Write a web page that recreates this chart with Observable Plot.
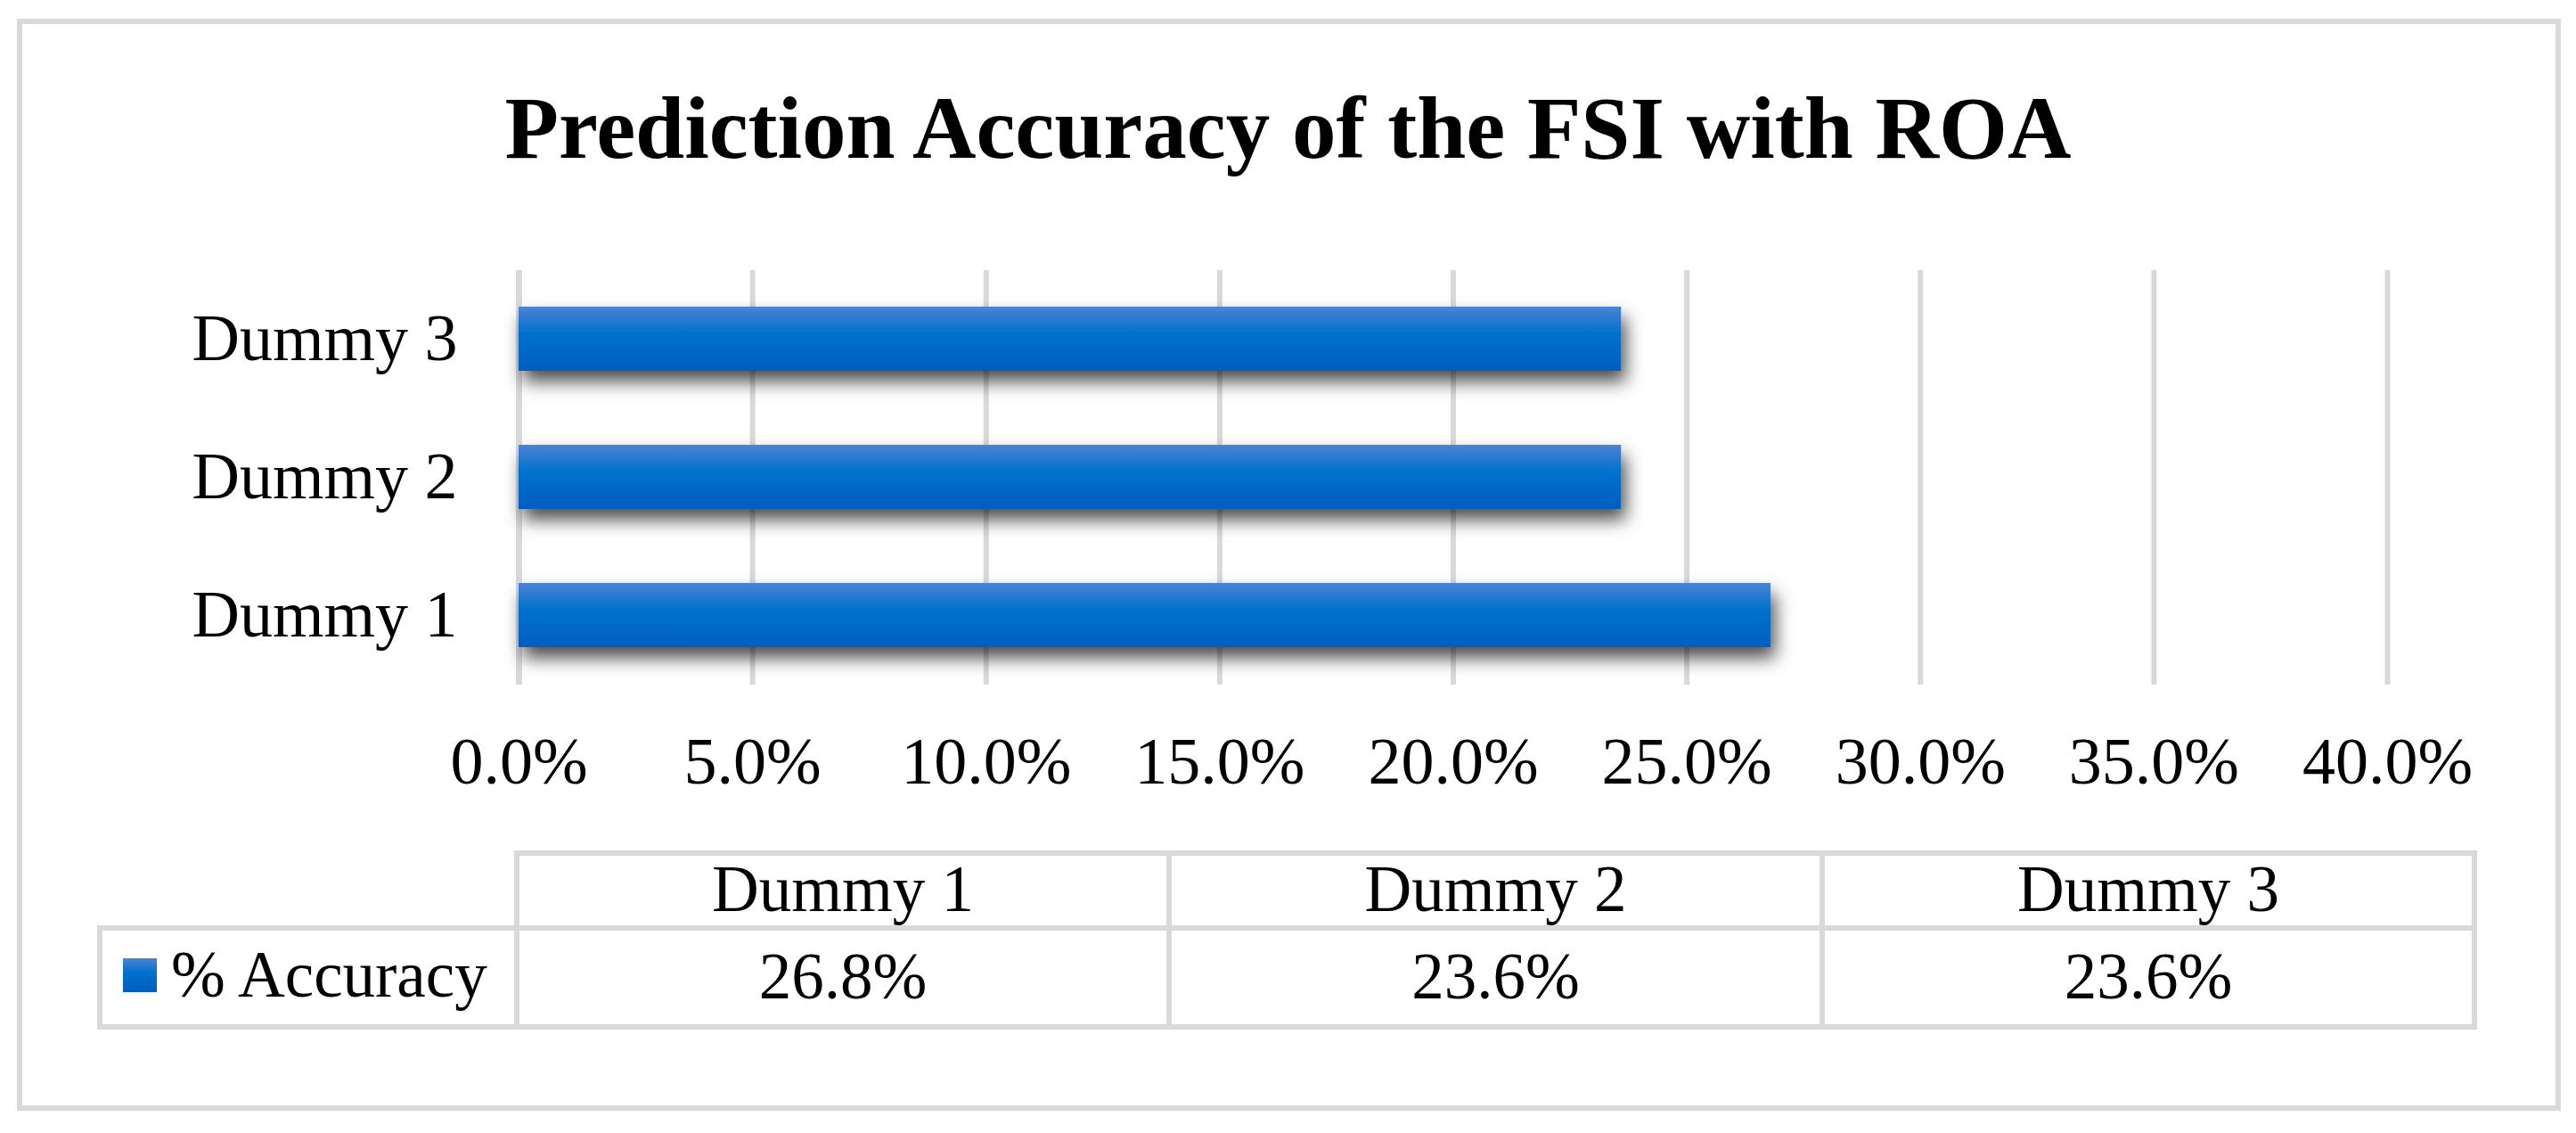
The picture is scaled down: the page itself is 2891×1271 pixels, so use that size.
<!DOCTYPE html>
<html><head><meta charset="utf-8">
<script src="https://cdn.jsdelivr.net/npm/d3@7"></script>
<script src="https://cdn.jsdelivr.net/npm/@observablehq/plot@0.6"></script>
<style>
html,body{margin:0;padding:0;background:#fff;}
#root{position:relative;width:2891px;height:1271px;overflow:hidden;font-family:"Liberation Serif","Times New Roman",serif;}
#frame{position:absolute;left:19px;top:21px;width:2855px;height:1225px;box-sizing:border-box;border:6px solid #d9d9d9;}
#title{position:absolute;left:0;top:94px;width:2891px;text-align:center;font-weight:bold;font-size:99px;line-height:1;color:#000;}
#chart{position:absolute;left:0;top:0;}
#table{position:absolute;left:0;top:0;}
</style>
</head><body>
<div id="root">
  <div id="frame"></div>
  <div id="title">Prediction Accuracy of the FSI with ROA</div>
  <div id="chart"></div>
  <div id="table"></div>
</div>
<script>
const categories = ["Dummy 1", "Dummy 2", "Dummy 3"];
const accuracy = [26.8, 23.6, 23.6];
const seriesName = "% Accuracy";
const xTicks = [0, 5, 10, 15, 20, 25, 30, 35, 40];
const fmt = d => d.toFixed(1) + "%";

const data = categories.map((c, i) => ({category: c, value: accuracy[i]}));

const plot = Plot.plot({
  width: 2891,
  height: 900,
  marginLeft: 582,
  marginRight: 212,
  marginTop: 303,
  marginBottom: 132,
  style: {fontFamily: "Liberation Serif, Times New Roman, serif", color: "#000", background: "transparent"},
  x: {domain: [0, 40]},
  y: {domain: categories.slice().reverse(), paddingInner: 0.535, paddingOuter: 0.2675},
  marks: [
    Plot.ruleX(xTicks.filter(d => d > 0), {stroke: "#d9d9d9", strokeWidth: 6}),
    Plot.ruleX([0], {stroke: "#d9d9d9", strokeWidth: 7}),
    Plot.barX(data, {x: "value", y: "category", fill: "url(#barGrad)"}),
    Plot.axisX({ticks: xTicks, tickFormat: fmt, tickSize: 0, tickPadding: 58, fontSize: 74, label: null}),
    Plot.axisY({tickSize: 0, tickPadding: 69, fontSize: 74, label: null})
  ]
});
document.getElementById("chart").appendChild(plot);

function addDefs(svgSel, gid, fid) {
  const defs = svgSel.insert("defs", ":first-child");
  const g = defs.append("linearGradient").attr("id", gid).attr("x1", 0).attr("y1", 0).attr("x2", 0).attr("y2", 1);
  g.append("stop").attr("offset", "0%").attr("stop-color", "#4c84d2");
  g.append("stop").attr("offset", "42%").attr("stop-color", "#0071cd");
  g.append("stop").attr("offset", "100%").attr("stop-color", "#005ebf");
  if (fid) {
    const f = defs.append("filter").attr("id", fid).attr("x", "-10%").attr("y", "-40%").attr("width", "130%").attr("height", "220%");
    f.append("feDropShadow").attr("dx", 5).attr("dy", 12).attr("stdDeviation", 10)
      .attr("flood-color", "#000").attr("flood-opacity", 0.7);
  }
}
const psvg = d3.select(plot);
addDefs(psvg, "barGrad", "barShadow");
psvg.select('g[aria-label="bar"]').attr("filter", "url(#barShadow)");

// Data table below the chart
const tsvg = d3.select("#table").append("svg").attr("width", 2891).attr("height", 1271)
  .style("font-family", "Liberation Serif, Times New Roman, serif");
addDefs(tsvg, "keyGrad", null);
const colX = [580, 1312, 2045, 2777];
const legendLeft = 112;
const yTop = 957, yMid = 1041, yBot = 1152;
const line = (x1, y1, x2, y2) => tsvg.append("line").attr("x1", x1).attr("y1", y1).attr("x2", x2).attr("y2", y2)
  .attr("stroke", "#d9d9d9").attr("stroke-width", 6).attr("stroke-linecap", "square");
line(colX[0], yTop, colX[3], yTop);
line(legendLeft, yMid, colX[3], yMid);
line(legendLeft, yBot, colX[3], yBot);
colX.forEach(x => line(x, yTop, x, yBot));
line(legendLeft, yMid, legendLeft, yBot);

categories.forEach((c, i) => {
  const cx = (colX[i] + colX[i + 1]) / 2;
  tsvg.append("text").attr("x", cx).attr("y", 1022).attr("text-anchor", "middle").attr("font-size", 73).text(c);
  tsvg.append("text").attr("x", cx).attr("y", 1120).attr("text-anchor", "middle").attr("font-size", 73).text(fmt(accuracy[i]));
});
tsvg.append("rect").attr("x", 138).attr("y", 1075).attr("width", 38).attr("height", 38).attr("fill", "url(#keyGrad)");
tsvg.append("text").attr("x", 192).attr("y", 1118).attr("font-size", 73).text(seriesName);
</script>
</body></html>
